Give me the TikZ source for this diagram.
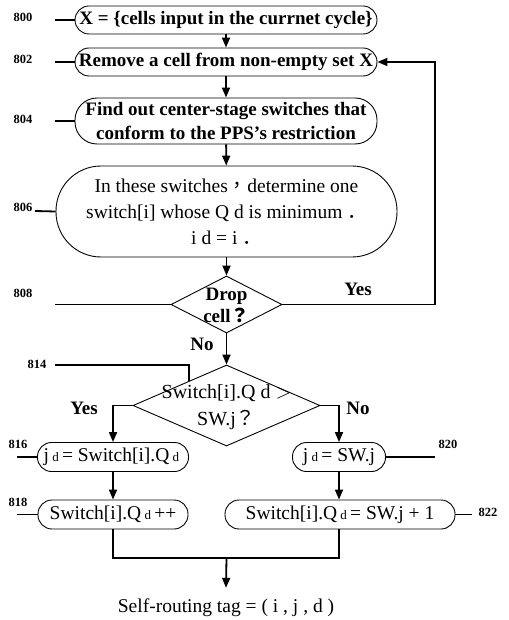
\documentclass[tikz,border=0pt]{standalone}
\usepackage{fontspec}
\setmainfont{Liberation Serif}
\newfontfamily\cjk{Noto Sans CJK TC}
\newfontfamily\cjkb{Noto Sans CJK SC}
\usetikzlibrary{arrows.meta,shapes.geometric,calc}
\newcommand{\subdee}{{\fontsize{13}{15}\selectfont\ d\ }}
\newcommand{\fwstop}{\kern0.25em{\cjkb ．}}
\begin{document}
\begin{tikzpicture}[x=1pt,y=-1pt,
  box/.style={draw,line width=0.9pt,inner sep=0pt,align=center},
  bt/.style={font=\fontsize{19}{23}\selectfont\bfseries},
  nt/.style={font=\fontsize{19.5}{26}\selectfont},
  conn/.style={line width=1.8pt},
  arr/.style={conn,-{Triangle[length=10pt,width=8pt]}},
  lbl/.style={font=\fontsize{12.5}{14}\selectfont\bfseries,inner sep=0pt},
  dia/.style={draw,diamond,line width=0.9pt,inner sep=0pt}
]
\useasboundingbox (0,0) rectangle (508,620);

% process nodes
\node[box,bt,rounded corners=14pt,minimum width=302pt,minimum height=28pt] (n800) at (226,20) {X = \{cells input in the currnet cycle\}};
\node[box,bt,rounded corners=14pt,minimum width=302pt,minimum height=28pt] (n802) at (226,62) {Remove a cell from non-empty set X};
\node[box,bt,rounded corners=22pt,minimum width=302pt,minimum height=46pt,font=\fontsize{19}{24}\selectfont\bfseries] (n804) at (226,121) {Find out center-stage switches that\\conform to the PPS's restriction};
\node[box,nt,rounded corners=45pt,minimum width=341pt,minimum height=91pt] (n806) at (226.5,211.5) {In these switches{\cjk ，}determine one\\switch[i] whose Q d is minimum\fwstop\\i d = i\fwstop};

% decisions
\node[dia,minimum width=111pt,minimum height=57pt] (d808) at (226.5,304.5) {};
\node[bt,align=center,inner sep=0pt,font=\fontsize{19}{22}\selectfont\bfseries] (t808) at (226.5,305) {Drop\\cell{\cjk ？}};
\node[dia,minimum width=187pt,minimum height=81pt] (d814) at (226.5,405.5) {};
\node[nt,align=center,inner sep=0pt,font=\fontsize{20}{27}\selectfont] (t814) at (226.5,407) {Switch[i].Q d $>$\\SW.j{\cjk ？}};

% branch boxes
\node[box,nt,rounded corners=14pt,minimum width=151pt,minimum height=29pt] (n816) at (113,457) {j\subdee= Switch[i].Q\subdee};
\node[box,nt,rounded corners=14pt,minimum width=93pt,minimum height=29pt] (n820) at (339,457) {j\subdee= SW.j};
\node[box,nt,rounded corners=14pt,minimum width=150pt,minimum height=29pt] (n818) at (113,514.5) {Switch[i].Q\subdee++};
\node[box,nt,rounded corners=14pt,minimum width=230pt,minimum height=29pt] (n822) at (340,514.5) {Switch[i].Q\subdee= SW.j + 1};

\node[nt,inner sep=0pt] (tag) at (226,608) {Self-routing tag = ( i , j , d )};

% step labels
\node[lbl] (l800) at (23,17) {800};
\node[lbl] (l802) at (23,59) {802};
\node[lbl] (l804) at (23,119) {804};
\node[lbl] (l806) at (23,207) {806};
\node[lbl] (l808) at (23,293) {808};
\node[lbl] (l814) at (37,364) {814};
\node[lbl] (l816) at (18,444) {816};
\node[lbl] (l818) at (18,502) {818};
\node[lbl] (l820) at (448,444) {820};
\node[lbl] (l822) at (488,512) {822};

% branch labels
\node[bt,inner sep=0pt] (yes1) at (358,289) {Yes};
\node[bt,inner sep=0pt] (no1) at (202,344) {No};
\node[bt,inner sep=0pt] (yes2) at (84,408) {Yes};
\node[bt,inner sep=0pt] (no2) at (358,408) {No};

% leader lines
\coordinate (c800) at (55,20);
\coordinate (c802) at (55,62);
\coordinate (c804) at (55,121);
\coordinate (c806) at (35,211);
\coordinate (c808) at (55,304.5);
\coordinate (c814) at (55,365);
\coordinate (c816) at (17,457);
\coordinate (c818) at (17,514.5);
\coordinate (c820) at (435,457);
\coordinate (c822) at (472,514.5);
\draw[conn] (c800) -- (n800.west);
\draw[conn] (c802) -- (n802.west);
\draw[conn] (c804) -- (n804.west);
\draw[conn] (c806) -- (n806.west);
\draw[conn] (c808) -- (d808.west);
\coordinate (e814) at ($(d814.west)!0.6!(d814.north)$);
\draw[conn] (c814) -| (e814);
\draw[conn] (c816) -- (n816.west);
\draw[conn] (c818) -- (n818.west);
\draw[conn] (n820.east) -- (c820);
\draw[conn] (n822.east) -- (c822);

% flow
\draw[arr] (n800) -- (n802);
\draw[arr] (n802) -- (n804);
\draw[arr] (n804) -- (n806);
\draw[arr] (n806) -- (d808);
\draw[arr] (d808) -- (d814);
\coordinate (loop) at (435,304.5);
\draw[arr] (d808.east) -- (loop) |- (n802.east);
\draw[arr] (d814.west) -| (n816.north);
\draw[arr] (d814.east) -| (n820.north);
\draw[arr] (n816) -- (n818);
\draw[arr] (n820.south) -- (n820.south |- n822.north);
\coordinate (mj) at (226.5,558);
\draw[conn] (n818.south) |- (mj) -| (n820.south |- n822.south);
\draw[arr] (mj) -- ($(tag.north)+(0,-11)$);
\end{tikzpicture}
\end{document}
